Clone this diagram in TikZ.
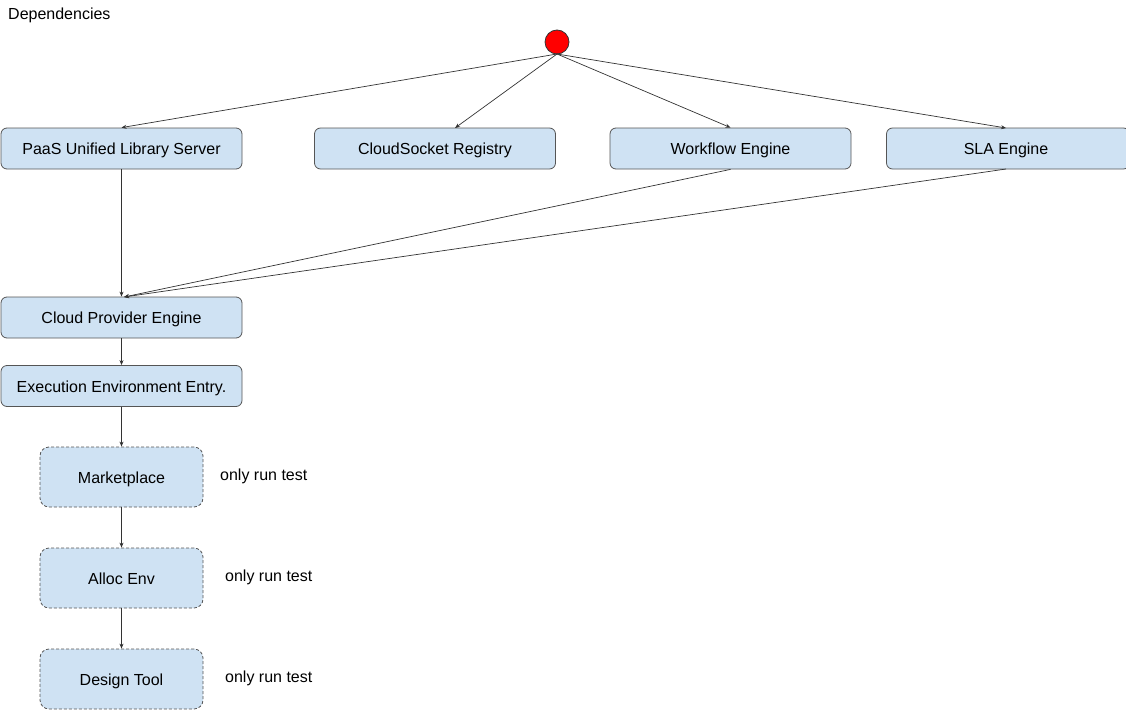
\documentclass[tikz,border=0pt]{standalone}
\usepackage{fontspec}
\setmainfont{Liberation Sans}
\usetikzlibrary{arrows.meta}
\definecolor{boxfill}{HTML}{CFE2F3}
\definecolor{boxline}{HTML}{555555}
\begin{document}
\begin{tikzpicture}[x=1pt,y=-1pt,
  txt/.style={font=\fontsize{16}{19}\selectfont},
  solidbox/.style={txt,draw=boxline,fill=boxfill,rounded corners=6pt,line width=0.8pt,
    minimum width=241pt,minimum height=41pt,inner sep=0pt,text height=14pt,text depth=2pt},
  dashbox/.style={txt,draw=boxline,fill=boxfill,rounded corners=9pt,line width=0.8pt,dash pattern=on 3pt off 2pt,
    minimum width=163pt,minimum height=60pt,inner sep=0pt,text height=14pt,text depth=2pt},
  lbl/.style={txt,anchor=west,inner sep=0pt},
  conn/.style={draw=black!80,line width=0.7pt,-{Stealth[length=5pt,width=4pt]}}]
\useasboundingbox (0,0) rectangle (1126,709);
\node[lbl] (title) at (8,15) {Dependencies};
\node[circle,draw=black!80,fill=red,minimum size=24pt,inner sep=0pt,line width=0.8pt] (start) at (557,42) {};
\node[solidbox] (paas) at (121.5,148.5) {PaaS Unified Library Server};
\node[solidbox] (cs) at (435,148.5) {CloudSocket Registry};
\node[solidbox] (wf) at (730.5,148.5) {Workflow Engine};
\node[solidbox,minimum width=243pt] (sla) at (1008,148.5) {\hspace*{-4pt}SLA Engine};
\node[solidbox] (cpe) at (121.5,317.5) {Cloud Provider Engine};
\node[solidbox] (eee) at (121.5,386) {Execution Environment Entry.};
\node[dashbox] (mp) at (121.5,477) {Marketplace};
\node[dashbox] (ae) at (121.5,578) {Alloc Env};
\node[dashbox] (dt) at (121.5,679) {Design Tool};
\node[lbl] (t1) at (220,476) {only run test};
\node[lbl] (t2) at (225,577) {only run test};
\node[lbl] (t3) at (225,678) {only run test};
\coordinate (s) at (557,54);
\draw[conn] (s) -- (paas.north);
\draw[conn] (s) -- (455,128);
\draw[conn] (s) -- (wf.north);
\draw[conn] (s) -- (1006,128);
\coordinate (cpetop) at (124,297);
\draw[conn] (paas.south) -- (paas.south |- cpe.north);
\draw[conn] (wf.south) -- (cpetop);
\draw[conn] (1006,169) -- (cpetop);
\draw[conn] (cpe.south) -- (eee.north);
\draw[conn] (eee.south) -- (mp.north);
\draw[conn] (mp.south) -- (ae.north);
\draw[conn] (ae.south) -- (dt.north);
\end{tikzpicture}
\end{document}
